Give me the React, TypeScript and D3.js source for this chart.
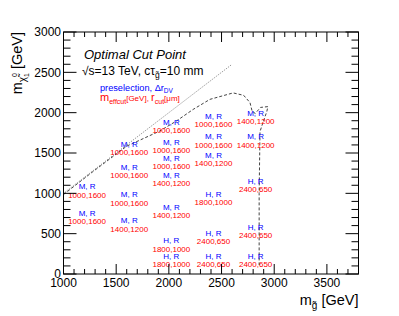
import React from 'react';
import * as d3 from 'd3';

// axis ticks
const xTickLabels = [1000, 1500, 2000, 2500, 3000, 3500];
const yTickLabels = [0, 500, 1000, 1500, 2000, 2500, 3000];

// kinematic limit (m_chi = m_gluino)
const diagMg = [1000, 2600];
const diagMchi = [1000, 2600];

// expected sensitivity contour
const contourMg = [1000, 1280, 1600, 1910, 2070, 2230, 2390, 2610, 2710, 2770, 2790, 2820, 2870, 2940, 2930, 2890, 2865, 2857, 2857];
const contourMchi = [985, 1270, 1585, 1770, 1895, 2040, 2165, 2245, 2215, 2125, 2020, 1990, 2065, 2075, 2015, 1865, 1765, 1000, 110];

// signal grid points and their optimal cuts
const ptMg = [1200, 1200, 1600, 1600, 1600, 1600, 2000, 2000, 2000, 2000, 2000, 2000, 2000, 2400, 2400, 2400, 2400, 2400, 2400, 2800, 2800, 2800, 2800, 2800];
const ptMchi = [1000, 670, 1530, 1240, 900, 580, 1800, 1550, 1350, 1140, 750, 330, 140, 1870, 1620, 1390, 910, 420, 140, 1910, 1620, 1070, 500, 140];
const ptPresel = ['M, R', 'M, R', 'M, R', 'M, R', 'M, R', 'M, R', 'M, R', 'M, R', 'M, R', 'M, R', 'M, R', 'H, R', 'H, R', 'M, R', 'M, R', 'M, R', 'H, R', 'H, R', 'H, R', 'M, R', 'M, R', 'H, R', 'H, R', 'H, R'];
const ptCut = ['1000,1600', '1000,1600', '1000,1600', '1000,1600', '1000,1600', '1400,1200', '1000,1600', '1000,1600', '1000,1600', '1400,1200', '1400,1200', '1800,1000', '1800,1000', '1000,1600', '1000,1600', '1400,1200', '1800,1000', '2400,650', '2400,650', '1400,1200', '1400,1200', '2400,650', '2400,650', '2400,650'];

const width = 399, height = 316;
const font = "'Liberation Sans', Arial, Helvetica, sans-serif";
const blue = '#0000ff';
const red = '#ff0000';

const App = () => {
    const xScale = d3.scaleLinear().domain([1000, 3800]).range([63.5, 358.5]);
    const yScale = d3.scaleLinear().domain([0, 3000]).range([274, 32]);
    const [x0, x1] = xScale.range();
    const [y0, y1] = yScale.range();

    const line = d3.line<[number, number]>()
        .x(d => xScale(d[0]))
        .y(d => yScale(d[1]));

    const diag = line(diagMg.map((m, i) => [m, diagMchi[i]]));
    const contour = line(contourMg.map((m, i) => [m, contourMchi[i]]));

    const xMinor = d3.range(1000, 3801, 100);
    const yMinor = d3.range(0, 3001, 100);

    return (
        <svg width={width} height={height} style={{ position: 'absolute', left: 0, top: 0 }} fontFamily={font}>
            <rect x={0} y={0} width={width} height={height} fill="#fff" />

            <path d={diag} fill="none" stroke="#666" strokeWidth={0.9} strokeDasharray="1,1.5" />
            <path d={contour} fill="none" stroke="#444" strokeWidth={1} strokeDasharray="3,2" />

            {ptMg.map((m, i) => (
                <g key={i} textAnchor="middle" fontSize={8}>
                    <text x={xScale(m) + 2.5} y={yScale(ptMchi[i]) - 4} fill={blue}>{ptPresel[i]}</text>
                    <text x={xScale(m) + 2.5} y={yScale(ptMchi[i]) + 4.3} fill={red}>{ptCut[i]}</text>
                </g>
            ))}

            {/* frame */}
            <rect x={x0} y={y1} width={x1 - x0} height={y0 - y1} fill="none" stroke="#000" strokeWidth={1} />

            {xMinor.map(v => {
                const len = v % 500 === 0 ? 10 : 5;
                return (
                    <g key={'x' + v} stroke="#000" strokeWidth={1}>
                        <line x1={xScale(v)} x2={xScale(v)} y1={y0} y2={y0 - len} />
                        <line x1={xScale(v)} x2={xScale(v)} y1={y1} y2={y1 + len} />
                    </g>
                );
            })}
            {yMinor.map(v => {
                const len = v % 500 === 0 ? 13 : 7;
                return (
                    <g key={'y' + v} stroke="#000" strokeWidth={1}>
                        <line x1={x0} x2={x0 + len} y1={yScale(v)} y2={yScale(v)} />
                        <line x1={x1} x2={x1 - len} y1={yScale(v)} y2={yScale(v)} />
                    </g>
                );
            })}

            {xTickLabels.map(v => (
                <text key={'xl' + v} x={xScale(v)} y={287} fontSize={12} textAnchor="middle">{v}</text>
            ))}
            {yTickLabels.map(v => (
                <text key={'yl' + v} x={61} y={yScale(v) + 4.2} fontSize={12} textAnchor="end">{v}</text>
            ))}

            {/* axis titles */}
            <text x={358.5} y={305} fontSize={14.5} textAnchor="end">
                <tspan>m</tspan>
                <tspan fontSize={10} dy={4}>{'g\u0303'}</tspan>
                <tspan dy={-4}> [GeV]</tspan>
            </text>
            <text transform="translate(21.5,32) rotate(-90)" fontSize={14.5} textAnchor="end">
                <tspan>m</tspan>
                <tspan fontSize={10} dy={4}>{'\u03c7\u0303'}</tspan>
                <tspan fontSize={7} dy={3}>1</tspan>
                <tspan fontSize={7} dx={-4} dy={-12}>0</tspan>
                <tspan dy={5}> [GeV]</tspan>
            </text>

            {/* header */}
            <text x={84} y={59} fontSize={13} fontStyle="italic">Optimal Cut Point</text>
            <text x={82} y={75} fontSize={12}>
                <tspan>{'\u221as=13 TeV, c\u03c4'}</tspan>
                <tspan fontSize={8.5} dy={3}>{'g\u0303'}</tspan>
                <tspan dy={-3}>=10 mm</tspan>
            </text>
            <text x={100} y={90.5} fontSize={9.2} fill={blue}>
                <tspan>{'preselection, \u0394r'}</tspan>
                <tspan fontSize={6.5} dy={2.5}>DV</tspan>
            </text>
            <text x={100} y={101} fontSize={11} fill={red}>
                <tspan>m</tspan>
                <tspan fontSize={7} dy={2.5}>effcut</tspan>
                <tspan fontSize={8} dy={-2.5}>[GeV], </tspan>
                <tspan>r</tspan>
                <tspan fontSize={7} dy={2.5}>cut</tspan>
                <tspan fontSize={8} dy={-2.5}>{'[\u03bcm]'}</tspan>
            </text>
        </svg>
    );
};

export default App;
